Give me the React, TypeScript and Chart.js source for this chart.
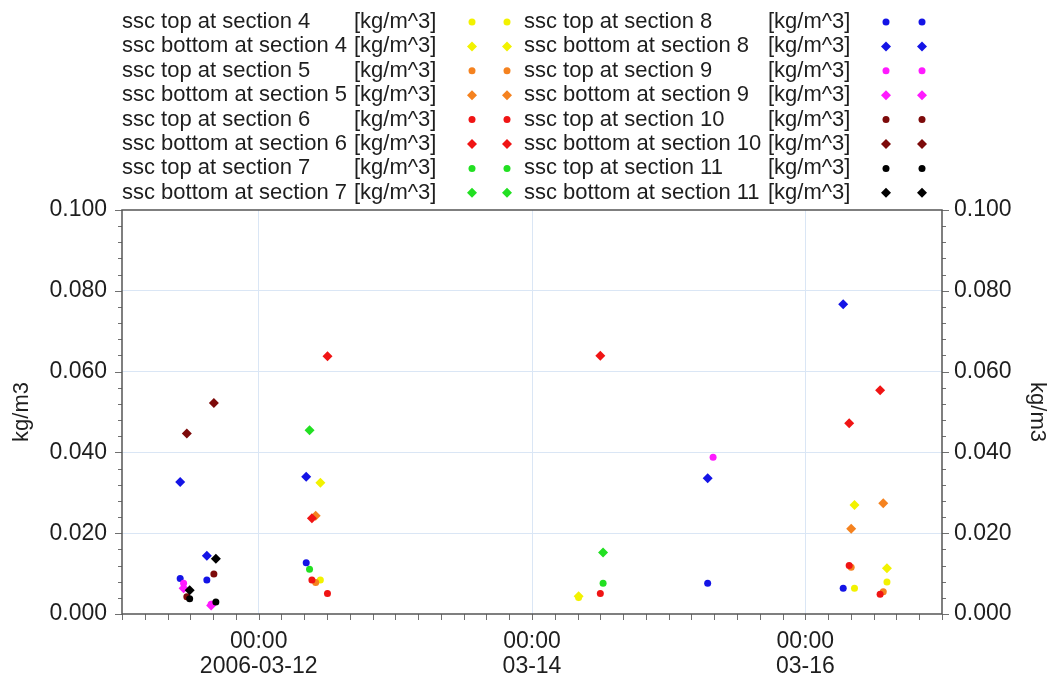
import React, { useEffect, useRef } from 'react';
import { Chart, registerables } from 'chart.js';

Chart.register(...registerables);

const FONT = '"Liberation Sans", Arial, Helvetica, sans-serif';

// time axis range and labels
const START = '2006-03-11 00:00';
const END = '2006-03-17 00:00';
const xLabelTimes = ['2006-03-12 00:00', '2006-03-14 00:00', '2006-03-16 00:00'];
const xLabelDates = ['2006-03-12', '03-14', '03-16'];
const yMin = 0;
const yMax = 0.1;

const sectionNames = ['4', '5', '6', '7', '8', '9', '10', '11'];
const sectionColors = ['#f2f200', '#f5821f', '#f01414', '#22e022', '#1414e6', '#ff1aff', '#7d0a0a', '#000000'];
const unitText = '[kg/m^3]';

// section 4 (yellow)
const sec4Times = ['2006-03-12 10:50', '2006-03-14 08:11', '2006-03-16 08:38', '2006-03-16 14:20'];
const sec4Top = [0.0084, 0.0041, 0.0064, 0.0079];
const sec4Bottom = [0.0325, 0.0044, 0.027, 0.0113];

// section 5 (orange)
const sec5Times = ['2006-03-12 10:01', '2006-03-16 08:03', '2006-03-16 13:41'];
const sec5Top = [0.0078, 0.0116, 0.0055];
const sec5Bottom = [0.0243, 0.0211, 0.0274];

// section 6 (red)
const sec6Times = ['2006-03-12 09:21', '2006-03-12 12:05', '2006-03-14 12:00', '2006-03-16 07:42', '2006-03-16 13:08'];
const sec6Top = [0.0084, 0.0051, 0.0051, 0.012, 0.0049];
const sec6Bottom = [0.0237, 0.0638, 0.0639, 0.0472, 0.0554];

// section 7 (green)
const sec7Times = ['2006-03-12 08:56', '2006-03-14 12:29'];
const sec7Top = [0.0111, 0.0076];
const sec7Bottom = [0.0455, 0.0152];

// section 8 (blue)
const sec8Times = ['2006-03-11 10:13', '2006-03-11 14:54', '2006-03-12 08:21', '2006-03-15 06:51', '2006-03-16 06:39'];
const sec8Top = [0.0088, 0.0084, 0.0127, 0.0076, 0.0064];
const sec8Bottom = [0.0327, 0.0144, 0.034, 0.0336, 0.0767];

// section 9 (magenta)
const sec9Times = ['2006-03-11 10:49', '2006-03-11 15:39', '2006-03-15 07:48'];
const sec9Top = [0.0076, 0.0024, 0.0388];
const sec9Bottom = [0.0064, 0.0021, null];

// section 10 (dark red)
const sec10Times = ['2006-03-11 11:23', '2006-03-11 16:08'];
const sec10Top = [0.0043, 0.0099];
const sec10Bottom = [0.0447, 0.0522];

// section 11 (black)
const sec11Times = ['2006-03-11 11:53', '2006-03-11 16:29'];
const sec11Top = [0.0038, 0.003];
const sec11Bottom = [0.0059, 0.0137];

const sectionTimes = [sec4Times, sec5Times, sec6Times, sec7Times, sec8Times, sec9Times, sec10Times, sec11Times];
const sectionTop = [sec4Top, sec5Top, sec6Top, sec7Top, sec8Top, sec9Top, sec10Top, sec11Top];
const sectionBottom = [sec4Bottom, sec5Bottom, sec6Bottom, sec7Bottom, sec8Bottom, sec9Bottom, sec10Bottom, sec11Bottom];

function toHours(s: string): number {
  const [d, t] = s.split(' ');
  const [Y, M, D] = d.split('-').map(Number);
  const [h, m] = t.split(':').map(Number);
  const [Y0, M0, D0] = START.split(' ')[0].split('-').map(Number);
  return (Date.UTC(Y, M - 1, D, h, m) - Date.UTC(Y0, M0 - 1, D0, 0, 0)) / 3600000;
}

const CIRCLE_R = 3.5;
const DIAMOND_R = 5;

function drawMarker(ctx: CanvasRenderingContext2D, style: string, x: number, y: number, color: string) {
  ctx.save();
  ctx.fillStyle = color;
  ctx.beginPath();
  if (style === 'circle') {
    ctx.arc(x, y, CIRCLE_R, 0, Math.PI * 2);
  } else {
    ctx.moveTo(x - DIAMOND_R, y);
    ctx.lineTo(x, y - DIAMOND_R);
    ctx.lineTo(x + DIAMOND_R, y);
    ctx.lineTo(x, y + DIAMOND_R);
    ctx.closePath();
  }
  ctx.fill();
  ctx.restore();
}

const decorPlugin = {
  id: 'decor',
  afterDraw(chart: any) {
    const ctx: CanvasRenderingContext2D = chart.ctx;
    const { left, right, top, bottom } = chart.chartArea;
    const xs = chart.scales.x;
    const ys = chart.scales.y;

    ctx.save();
    // tick marks
    ctx.strokeStyle = '#707070';
    ctx.lineWidth = 1;
    ctx.beginPath();
    xs.ticks.forEach((t: any) => {
      const px = Math.round(xs.getPixelForValue(t.value)) + 0.5;
      ctx.moveTo(px, bottom);
      ctx.lineTo(px, bottom + 6);
    });
    ys.ticks.forEach((t: any) => {
      const py = Math.round(ys.getPixelForValue(t.value)) + 0.5;
      const major = Math.round(t.value * 1000) % 20 === 0;
      const len = major ? 7 : 4;
      ctx.moveTo(left - len, py);
      ctx.lineTo(left, py);
      ctx.moveTo(right, py);
      ctx.lineTo(right + len, py);
    });
    ctx.stroke();

    // frame
    ctx.strokeStyle = '#555555';
    ctx.lineWidth = 1.5;
    ctx.strokeRect(left, top, right - left, bottom - top);

    // legend
    ctx.font = `22px ${FONT}`;
    ctx.fillStyle = '#1e1e1e';
    ctx.textBaseline = 'middle';
    ctx.textAlign = 'left';
    const colText = [122, 524];
    const colUnit = [354, 768];
    const colMarks = [[472, 507], [886, 922]];
    chart.data.datasets.forEach((ds: any, i: number) => {
      const col = i < 8 ? 0 : 1;
      const row = i % 8;
      const y = 22 + row * 24.4;
      ctx.fillStyle = '#1e1e1e';
      ctx.fillText(ds.label, colText[col], y);
      ctx.fillText(unitText, colUnit[col], y);
      colMarks[col].forEach((mx) => drawMarker(ctx, ds.pointStyle, mx, y, ds.backgroundColor));
    });
    ctx.restore();
  },
};

export default function App() {
  const canvasRef = useRef<HTMLCanvasElement | null>(null);

  useEffect(() => {
    const canvas = canvasRef.current;
    if (!canvas) return;

    const datasets: any[] = [];
    const order: number[] = [0, 1, 2, 3, 4, 5, 6, 7];
    order.forEach((si) => {
      const times = sectionTimes[si];
      const mk = (vals: (number | null)[]) =>
        times
          .map((t, k) => ({ x: toHours(t), y: vals[k] }))
          .filter((p) => p.y !== null && p.y !== undefined);
      const color = sectionColors[si];
      datasets.push({
        label: `ssc top at section ${sectionNames[si]}`,
        data: mk(sectionTop[si]),
        pointStyle: 'circle',
        pointRadius: CIRCLE_R,
        backgroundColor: color,
        borderColor: color,
        borderWidth: 0,
        showLine: false,
        order: -(si * 2),
      });
      datasets.push({
        label: `ssc bottom at section ${sectionNames[si]}`,
        data: mk(sectionBottom[si]),
        pointStyle: 'rectRot',
        pointRadius: DIAMOND_R,
        backgroundColor: color,
        borderColor: color,
        borderWidth: 0,
        showLine: false,
        order: -(si * 2 + 1),
      });
    });

    const labelHours = xLabelTimes.map(toHours);
    const xMax = toHours(END);

    const yTickCb = (v: any) => (Math.round(Number(v) * 1000) % 20 === 0 ? Number(v).toFixed(3) : '');
    const yGridColor = (c: any) => {
      const v = c.tick ? c.tick.value : 0;
      const m = Math.round(v * 1000);
      return m % 20 === 0 && m !== 0 && m !== 100 ? '#dae6f5' : 'rgba(0,0,0,0)';
    };

    const chart = new Chart(canvas, {
      type: 'scatter',
      data: { datasets },
      options: {
        responsive: false,
        animation: false,
        devicePixelRatio: 1,
        events: [],
        layout: { padding: { top: 210, left: 0, right: 0, bottom: 0 } },
        plugins: { legend: { display: false }, tooltip: { enabled: false }, title: { display: false } },
        scales: {
          x: {
            type: 'linear',
            min: 0,
            max: xMax,
            afterFit: (s: any) => {
              s.height = 682 - 614;
            },
            grid: {
              drawTicks: false,
              color: (c: any) => (c.tick && labelHours.includes(c.tick.value) ? '#dae6f5' : 'rgba(0,0,0,0)'),
              lineWidth: 1,
            },
            border: { display: false },
            ticks: {
              stepSize: 4,
              autoSkip: false,
              maxRotation: 0,
              padding: 16,
              color: '#1e1e1e',
              font: { size: 23, family: FONT, lineHeight: 1.05 },
              callback: (v: any) => {
                const idx = labelHours.indexOf(Number(v));
                return idx >= 0 ? [xLabelTimes[idx].split(' ')[1], xLabelDates[idx]] : '';
              },
            },
          },
          y: {
            type: 'linear',
            position: 'left',
            min: yMin,
            max: yMax,
            afterFit: (s: any) => {
              s.width = 122;
            },
            grid: { drawTicks: false, color: yGridColor, lineWidth: 1 },
            border: { display: false },
            title: {
              display: true,
              text: 'kg/m3',
              color: '#1e1e1e',
              font: { size: 22, family: FONT },
              padding: { top: 9, bottom: 0 },
            },
            ticks: {
              stepSize: 0.004,
              autoSkip: false,
              padding: 15,
              color: '#1e1e1e',
              font: { size: 23, family: FONT },
              callback: yTickCb,
            },
          },
          y2: {
            type: 'linear',
            position: 'right',
            display: true,
            min: yMin,
            max: yMax,
            afterFit: (s: any) => {
              s.width = 1052 - 942;
            },
            grid: { drawTicks: false, drawOnChartArea: false },
            border: { display: false },
            title: {
              display: true,
              text: 'kg/m3',
              color: '#1e1e1e',
              font: { size: 22, family: FONT },
              padding: { top: 2, bottom: 0 },
            },
            ticks: {
              stepSize: 0.004,
              autoSkip: false,
              padding: 12,
              color: '#1e1e1e',
              font: { size: 23, family: FONT },
              callback: yTickCb,
            },
          },
        },
      } as any,
      plugins: [decorPlugin as any],
    });

    return () => chart.destroy();
  }, []);

  return (
    <div style={{ position: 'absolute', left: 0, top: 0, width: 1052, height: 682, background: '#ffffff' }}>
      <canvas ref={canvasRef} width={1052} height={682} style={{ display: 'block' }} />
    </div>
  );
}
